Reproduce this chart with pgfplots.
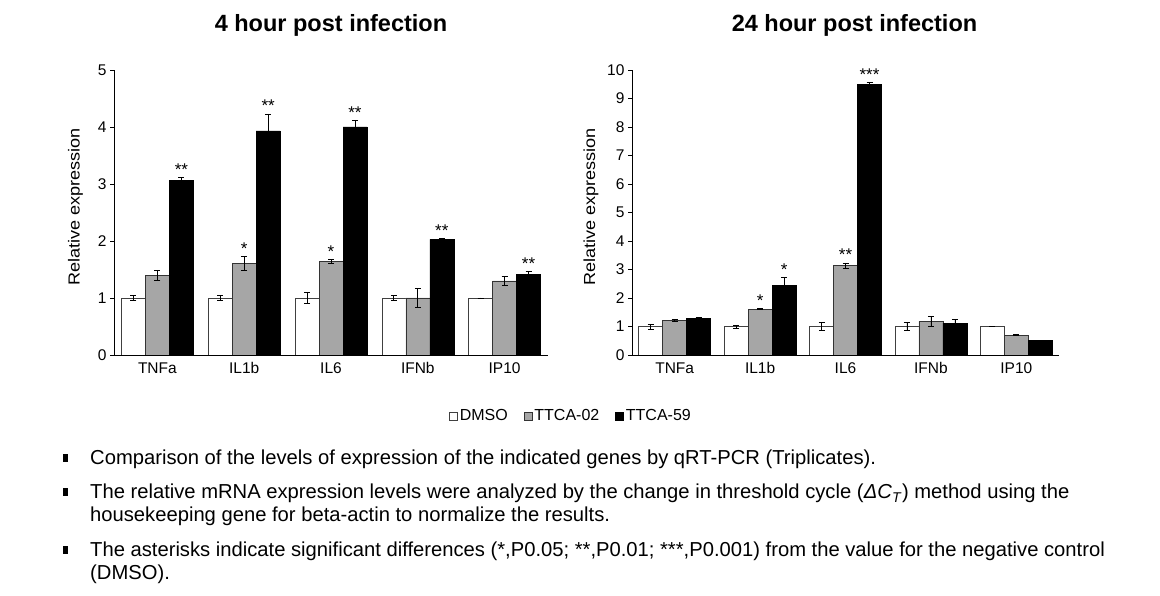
\documentclass[border=0pt]{standalone}
\usepackage{pgfplots}
\pgfplotsset{compat=1.18}
\usepackage{fontspec}
\setmainfont{Liberation Sans}
\definecolor{gbar}{HTML}{A6A6A6}
\pgfplotsset{
 myax/.style={scale only axis, height=285pt, ymin=0, axis lines*=left,
   xmin=-0.5, xmax=4.5, xtick={0,...,4}, xticklabels={TNFa,IL1b,IL6,IFNb,IP10},
   x tick style={draw=none}, y tick style={black, line width=0.8pt}, tick align=outside, major tick length=4pt,
   ybar, bar width=24pt,
   tick label style={font=\fontsize{15.5}{17}\selectfont},
   /pgf/number format/assume math mode=true,
   ylabel={\scalebox{1.13}[1]{Relative expression}}, ylabel style={font=\fontsize{16}{18}\selectfont, at={(ticklabel cs:0.52)}},
   title style={font=\bfseries\fontsize{23.5}{26}\selectfont, yshift=24pt},
   axis line style={black, line width=0.8pt},
   legend image code/.code={\draw[#1] (0pt,-4pt) rectangle (8pt,4pt);},
 },
 dmso/.style={fill=white, draw=black!75, line width=0.6pt, bar shift=-24pt,
   error bars/.cd, y dir=both, y explicit, error bar style={black, line width=0.7pt}, error mark options={rotate=90, mark size=3pt, line width=0.7pt, black}},
 t02/.style={fill=gbar, draw=black!80, line width=0.6pt, bar shift=0pt,
   error bars/.cd, y dir=both, y explicit, error bar style={black, line width=0.7pt}, error mark options={rotate=90, mark size=3pt, line width=0.7pt, black}},
 t59/.style={fill=black, draw=black, line width=0.6pt, bar shift=24pt,
   error bars/.cd, y dir=both, y explicit, error bar style={black, line width=0.7pt}, error mark options={rotate=90, mark size=3pt, line width=0.7pt, black}},
 star/.style={fill=none, draw=none, forget plot, point meta=explicit symbolic, nodes near coords,
   nodes near coords style={font=\fontsize{17}{17}\selectfont, anchor=south, inner sep=1pt, yshift=1pt}},
}
\begin{document}
\begin{tikzpicture}[x=1pt,y=1pt]
\useasboundingbox (0,0) rectangle (1160,596);
% Left axis
\begin{axis}[myax, at={(114pt,241pt)}, anchor=south west, width=434pt, ymax=5, ytick={0,...,5},
  title={4 hour post infection}, ylabel shift=8pt,
  legend style={at={(1.053,-0.214)}, anchor=center, draw=none, legend columns=3,
    font=\fontsize{16}{18}\selectfont, /tikz/every even column/.append style={column sep=14pt}}]
\addplot[dmso] coordinates {(0,1) +- (0,0.04) (1,1) +- (0,0.05) (2,1) +- (0,0.1) (3,1) +- (0,0.05) (4,1) +- (0,0.0)};
\addlegendentry{DMSO}
\addplot[t02] coordinates {(0,1.40) +- (0,0.09) (1,1.61) +- (0,0.12) (2,1.64) +- (0,0.03) (3,1.00) +- (0,0.17) (4,1.30) +- (0,0.08)};
\addlegendentry{TTCA-02}
\addplot[t59] coordinates {(0,3.06) +- (0,0.05) (1,3.93) +- (0,0.30) (2,4.00) +- (0,0.11) (3,2.03) +- (0,0.01) (4,1.42) +- (0,0.05)};
\addlegendentry{TTCA-59}
\addplot[star, bar shift=0pt] coordinates {(1,1.73) [*] (2,1.67) [*]};
\addplot[star, bar shift=24pt] coordinates {(0,3.11) [**] (1,4.23) [**] (2,4.11) [**] (3,2.04) [**] (4,1.47) [**]};
\end{axis}
% Right axis
\begin{axis}[myax, at={(632pt,241pt)}, anchor=south west, width=427pt, ymax=10, ytick={0,...,10},
  title={24 hour post infection}, title style={xshift=9pt}, ylabel shift=2pt]
\addplot[dmso] coordinates {(0,1) +- (0,0.09) (1,1) +- (0,0.05) (2,1) +- (0,0.13) (3,1) +- (0,0.15) (4,1) +- (0,0.01)};
\addplot[t02] coordinates {(0,1.21) +- (0,0.03) (1,1.61) +- (0,0.02) (2,3.13) +- (0,0.10) (3,1.18) +- (0,0.18) (4,0.70) +- (0,0.01)};
\addplot[t59] coordinates {(0,1.28) +- (0,0.05) (1,2.44) +- (0,0.27) (2,9.50) +- (0,0.05) (3,1.12) +- (0,0.13) (4,0.51) +- (0,0.01)};
\addplot[star, bar shift=0pt] coordinates {(1,1.63) [*] (2,3.23) [**]};
\addplot[star, bar shift=24pt] coordinates {(1,2.71) [*] (2,9.55) [***]};
\end{axis}
% Notes
\begin{scope}[every node/.style={anchor=base west, inner sep=0pt, font=\fontsize{20.2}{22}\selectfont}]
\fill (63,596-462) rectangle (68,596-454);
\node at (90,596-465) {Comparison of the levels of expression of the indicated genes by qRT-PCR (Triplicates).};
\fill (63,596-496) rectangle (68,596-488);
\node at (90,596-499) {The relative mRNA expression levels were analyzed by the change in threshold cycle (\textit{ΔC}\textsubscript{\textit{T}}) method using the};
\node at (90,596-522) {housekeeping gene for beta-actin to normalize the results.};
\fill (63,596-554) rectangle (68,596-546);
\node at (90,596-557) {The asterisks indicate significant differences (*,P0.05; **,P0.01; ***,P0.001) from the value for the negative control};
\node at (90,596-580) {(DMSO).};
\end{scope}
\end{tikzpicture}
\end{document}
